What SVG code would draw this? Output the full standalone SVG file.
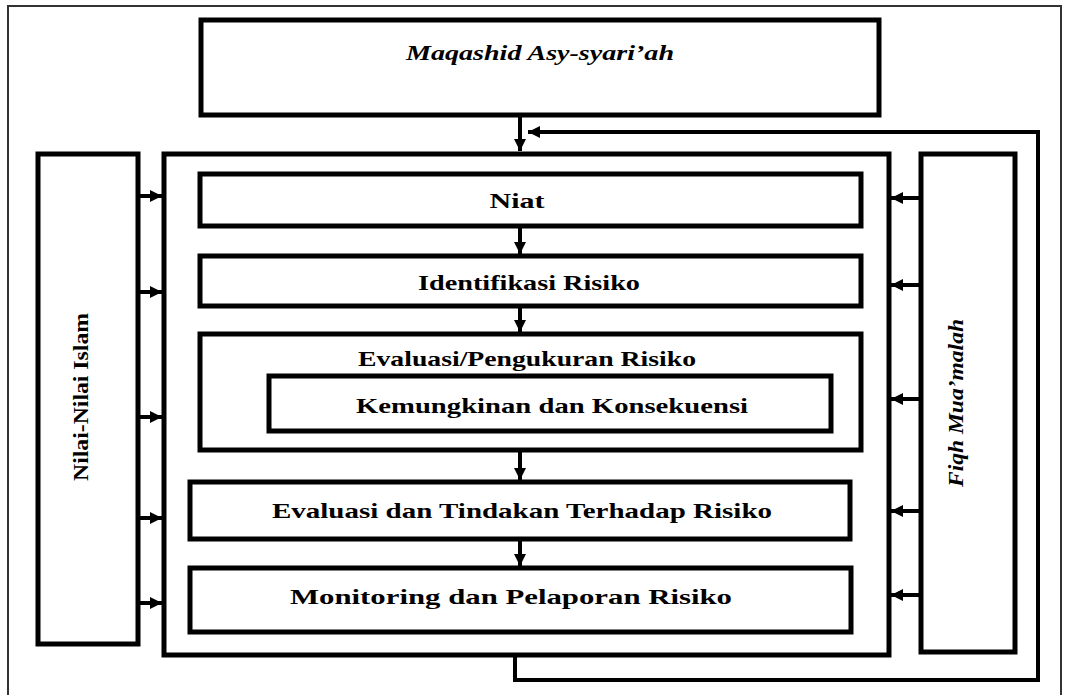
<svg xmlns="http://www.w3.org/2000/svg" width="1067" height="695" viewBox="0 0 1067 695">
<style>
.box{fill:#fff;stroke:#000;stroke-width:5}
.frame{fill:#fff;stroke:#333;stroke-width:2}
.t{font-family:"Liberation Serif","Times New Roman",serif;font-weight:bold;font-size:21px;fill:#000}
.it{font-style:italic}
.c{fill:none;stroke:#000;stroke-width:4}
</style>
<defs>
<marker id="ah" viewBox="0 0 12 12" refX="12" refY="6" markerWidth="12" markerHeight="12" markerUnits="userSpaceOnUse" orient="auto">
<path d="M0,0 L12,6 L0,12 z" fill="#000"/>
</marker>
</defs>
<rect class="frame" x="8" y="6" width="1053" height="700"/>
<g id="maqashid">
<rect class="box" x="201" y="20" width="678" height="95"/>
<text class="t it" x="540" y="60" text-anchor="middle" textLength="268" lengthAdjust="spacingAndGlyphs">Maqashid Asy-syari’ah</text>
</g>
<g id="container">
<rect class="box" x="164" y="154" width="725" height="501"/>
</g>
<g id="nilai">
<rect class="box" x="38" y="154" width="100" height="490"/>
<text class="t" transform="translate(88,397) rotate(-90)" text-anchor="middle" textLength="168" lengthAdjust="spacingAndGlyphs">Nilai-Nilai Islam</text>
</g>
<g id="fiqh">
<rect class="box" x="921" y="154" width="94" height="498"/>
<text class="t it" transform="translate(963,403) rotate(-90)" text-anchor="middle" textLength="168" lengthAdjust="spacingAndGlyphs">Fiqh Mua’malah</text>
</g>
<g id="niat">
<rect class="box" x="200" y="174" width="661" height="52"/>
<text class="t" x="517" y="208" text-anchor="middle" textLength="55" lengthAdjust="spacingAndGlyphs">Niat</text>
</g>
<g id="identifikasi">
<rect class="box" x="200" y="256" width="661" height="50"/>
<text class="t" x="529" y="290" text-anchor="middle" textLength="222" lengthAdjust="spacingAndGlyphs">Identifikasi Risiko</text>
</g>
<g id="evaluasi-pengukuran">
<rect class="box" x="200" y="334" width="661" height="116"/>
<text class="t" x="527" y="366" text-anchor="middle" textLength="338" lengthAdjust="spacingAndGlyphs">Evaluasi/Pengukuran Risiko</text>
</g>
<g id="kemungkinan">
<rect class="box" x="269" y="376" width="562" height="55"/>
<text class="t" x="552" y="413" text-anchor="middle" textLength="392" lengthAdjust="spacingAndGlyphs">Kemungkinan dan Konsekuensi</text>
</g>
<g id="evaluasi-tindakan">
<rect class="box" x="190" y="482" width="660" height="57"/>
<text class="t" x="522" y="518" text-anchor="middle" textLength="500" lengthAdjust="spacingAndGlyphs">Evaluasi dan Tindakan Terhadap Risiko</text>
</g>
<g id="monitoring">
<rect class="box" x="190" y="568" width="661" height="64"/>
<text class="t" x="511" y="604" text-anchor="middle" textLength="442" lengthAdjust="spacingAndGlyphs">Monitoring dan Pelaporan Risiko</text>
</g>
<g id="connectors">
<path class="c" d="M520,117 V151" marker-end="url(#ah)"/>
<path class="c" d="M520,228 V254" marker-end="url(#ah)"/>
<path class="c" d="M520,308 V332" marker-end="url(#ah)"/>
<path class="c" d="M520,452 V480" marker-end="url(#ah)"/>
<path class="c" d="M520,541 V566" marker-end="url(#ah)"/>
<path class="c" d="M515,657 V680 H1038 V132 H528" marker-end="url(#ah)"/>
<path class="c" d="M140,196 H162" marker-end="url(#ah)"/>
<path class="c" d="M140,292 H162" marker-end="url(#ah)"/>
<path class="c" d="M140,417 H162" marker-end="url(#ah)"/>
<path class="c" d="M140,518 H162" marker-end="url(#ah)"/>
<path class="c" d="M140,603 H162" marker-end="url(#ah)"/>
<path class="c" d="M919,198 H891" marker-end="url(#ah)"/>
<path class="c" d="M919,285 H891" marker-end="url(#ah)"/>
<path class="c" d="M919,399 H891" marker-end="url(#ah)"/>
<path class="c" d="M919,511 H891" marker-end="url(#ah)"/>
<path class="c" d="M919,595 H891" marker-end="url(#ah)"/>
</g>
</svg>
